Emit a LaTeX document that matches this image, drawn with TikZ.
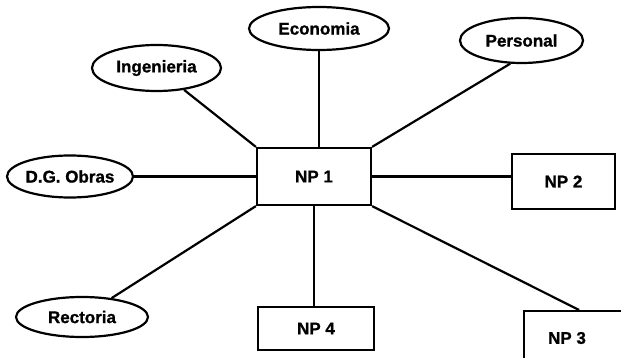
\documentclass[tikz,border=0pt]{standalone}
\usepackage{fontspec}
\setmainfont{Liberation Sans}[BoldFeatures={FakeBold=1}]
\usetikzlibrary{shapes.geometric}
\begin{document}
\begin{tikzpicture}[x=1pt,y=-1pt,
  every node/.style={font=\fontsize{17}{19}\selectfont\bfseries},
  dept/.style={draw,ellipse,line width=2.2pt,inner sep=0pt},
  np/.style={draw,rectangle,line width=2.2pt,inner sep=0pt},
  link/.style={line width=2.2pt}]
  \useasboundingbox (0,0) rectangle (621,358);
  \clip (0,0) rectangle (621,358);

  % central node and satellite boxes
  \node[np,minimum width=114,minimum height=57] (np1) at (314,176.5) {NP 1};
  \node[np,minimum width=103,minimum height=55] (np2) at (563.5,181.5) {NP 2};
  \node[np,minimum width=116,minimum height=43] (np4) at (316,328.5) {NP 4};
  \node[np,minimum width=110,minimum height=70,anchor=north west] (np3) at (523,310) {};
  \node (np3t) at (567,338) {NP 3};

  % departments
  \node[dept,minimum width=140,minimum height=43] (eco) at (319,28.5) {Economia};
  \node[dept,minimum width=123,minimum height=45] (per) at (521.5,40.5) {Personal};
  \node[dept,minimum width=129,minimum height=46] (ing) at (156.5,68) {Ingenieria};
  \node[dept,minimum width=126,minimum height=42] (dgo) at (70,176.5) {D.G. Obras};
  \node[dept,minimum width=132,minimum height=40] (rec) at (82,317) {Rectoria};

  % links
  \draw[link] (eco.south) -- (eco.south |- np1.north);
  \draw[link] (np1.north west) -- (ing);
  \draw[link] (np1.north east) -- (per.-116);
  \draw[link] (dgo) -- (np1);
  \draw[link] (np1.south west) -- (rec);
  \draw[link] (np1.south) -- (np1.south |- np4.north);
  \draw[link] (np1.east) -- (np1.east -| np2.west);
  \draw[link] (np1.south east) -- (np3.north);
\end{tikzpicture}
\end{document}
